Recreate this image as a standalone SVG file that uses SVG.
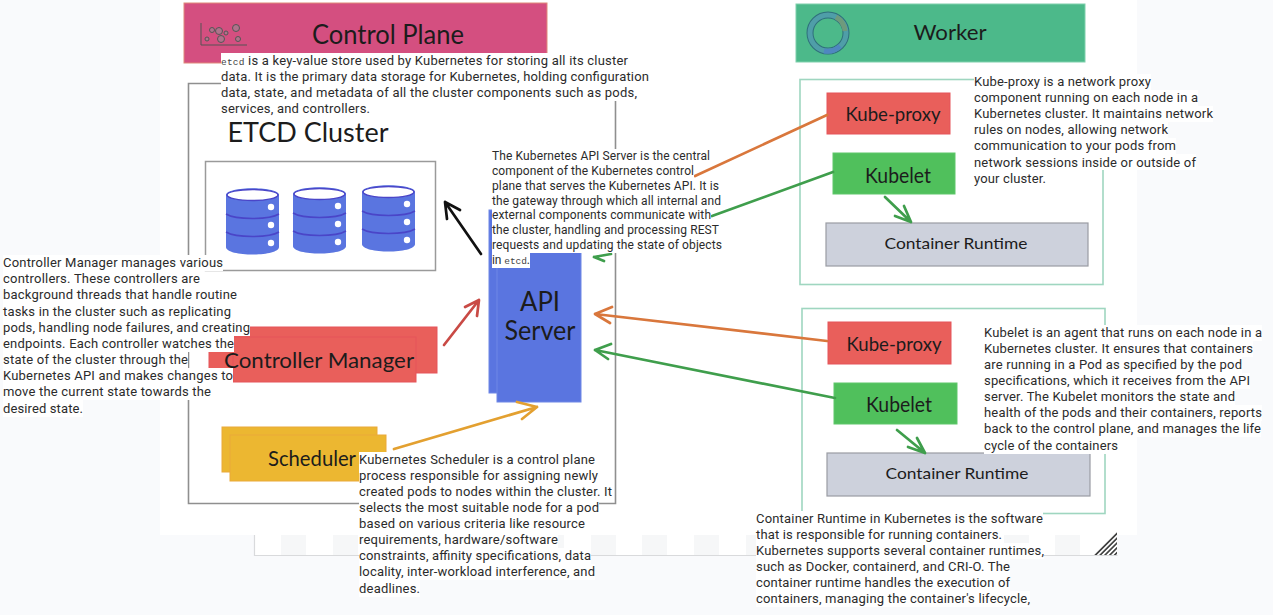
<svg xmlns="http://www.w3.org/2000/svg" width="1273" height="615" viewBox="0 0 1273 615">
<style>
.t{font-family:Roboto,"Liberation Sans",sans-serif;font-size:13px;fill:#2b2b2b}
.a{font-size:12px}
.m{font-family:"Liberation Mono",monospace;font-size:9.5px;fill:#444}
.h{font-family:Lato,"Liberation Sans",sans-serif;fill:#1c1c1c;text-anchor:middle}
.f{fill:none;stroke:#8f8f8f;stroke-width:1.6}
.g{fill:none;stroke:#9fd6c0;stroke-width:1.6}
.r{fill:#e95f5b;stroke:#e5545a;stroke-width:1}
.y{fill:#ecb731;stroke:#eaa93a;stroke-width:1}
.b{fill:#5a75e0;stroke:#6f88e6;stroke-width:1}
.k{fill:#50c05c;stroke:#5fc76a;stroke-width:1}
.c{fill:#cdd1dc;stroke:#9a9ca3;stroke-width:1.2}
.w{fill:#fff}
.l{fill:none;stroke-width:2.7;stroke-linecap:round;stroke-linejoin:round}
.hp{fill:#f6f7f8}
</style>
<defs>
<g id="cyl">
<path d="M0 7C0 -2 53 -2 53 7V59C53 69 0 69 0 59Z" fill="#5a75e0"/>
<ellipse cx="26.5" cy="7" rx="25.5" ry="5.5" fill="#fff" stroke="#4a45c8" stroke-width="1.5"/>
<path d="M0 26C10 32 43 32 53 26M0 44C10 50 43 50 53 44" fill="none" stroke="#4a45c8" stroke-width="1.5"/>
<circle cx="45" cy="19" r="3.2" fill="#fff"/><circle cx="45" cy="37" r="3.2" fill="#fff"/><circle cx="45" cy="55" r="3.2" fill="#fff"/>
</g>
<pattern id="hatch" width="3.4" height="3.4" patternUnits="userSpaceOnUse" patternTransform="rotate(-45)">
<rect width="3.4" height="1.7" fill="#444"/>
</pattern>
</defs>
<rect width="1273" height="615" fill="#f9fafc"/>
<rect x="160" width="977" height="535" fill="#fff"/>
<g id="canvas-edge">
<rect x="254" y="535" width="863" height="20" fill="#fff"/>
<path class="hp" d="M281 535h25v20h-25zM333 535h25v20h-25zM384 535h25v20h-25zM436 535h25v20h-25zM487 535h25v20h-25zM539 535h25v20h-25zM591 535h25v20h-25zM642 535h25v20h-25zM694 535h25v20h-25zM746 535h25v20h-25zM797 535h25v20h-25zM849 535h25v20h-25zM900 535h25v20h-25zM952 535h25v20h-25zM1004 535h25v20h-25zM1055 535h25v20h-25z"/>
<path d="M254.500 535V555.500H1117.500" fill="none" stroke="#d9dadc" stroke-width="1.200"/>
<path d="M1093 555L1117 531V555Z" fill="url(#hatch)"/>
</g>
<g id="control-plane-banner">
<rect x="184" y="3" width="363" height="60" fill="#d44f80" stroke="#e08a7a" stroke-width="1"/>
<path d="M201 23V45H247" fill="none" stroke="#555" stroke-width="1"/>
<g fill="#b0728c" stroke="#555" stroke-width="1"><circle cx="207" cy="39" r="2"/><circle cx="212" cy="30" r="2.500"/><circle cx="219" cy="31" r="3.500"/><circle cx="221" cy="39" r="3.500"/><circle cx="226" cy="33" r="2"/><circle cx="236" cy="28" r="3.500"/><circle cx="238" cy="39" r="2.500"/></g>
<text class="h" x="388" y="44" font-size="27" textLength="152" lengthAdjust="spacingAndGlyphs">Control Plane</text>
</g>
<g id="control-plane-frame"><path class="f" d="M221 83.500H188.500V503.500H615.500V100"/></g>
<g id="etcd-cluster">
<text class="h" x="308" y="142" font-size="26" textLength="161" lengthAdjust="spacingAndGlyphs">ETCD Cluster</text>
<rect x="205.500" y="161.500" width="230" height="109" fill="#fff" stroke="#9a9a9a" stroke-width="1.500"/>
<use href="#cyl" x="226" y="188"/><use href="#cyl" x="293" y="187"/><use href="#cyl" x="362" y="185"/>
</g>
<g id="api-server">
<rect class="b" x="489" y="210" width="70" height="183"/>
<rect class="b" x="497" y="252" width="84" height="150"/>
<text class="h" x="540" y="311" font-size="26" textLength="40" lengthAdjust="spacingAndGlyphs">API</text>
<text class="h" x="540" y="340" font-size="26" textLength="71" lengthAdjust="spacingAndGlyphs">Server</text>
</g>
<g id="controller-manager">
<rect class="r" x="209" y="327" width="228" height="46"/>
<rect class="r" x="233" y="337" width="183" height="45"/>
<text class="h" x="319" y="368" font-size="22" textLength="190" lengthAdjust="spacingAndGlyphs">Controller Manager</text>
</g>
<g id="scheduler">
<rect class="y" x="222" y="427" width="155" height="45"/>
<rect class="y" x="230" y="435" width="156" height="46"/>
<text class="h" x="312" y="466" font-size="21" textLength="88" lengthAdjust="spacingAndGlyphs">Scheduler</text>
</g>
<g id="worker-banner">
<rect x="796" y="4" width="289" height="58" fill="#4cb98a" stroke="#7fd0ac" stroke-width="1"/>
<circle cx="828" cy="33" r="18" fill="none" stroke="#2f6f7c" stroke-width="7"/>
<circle cx="828" cy="33" r="18" fill="none" stroke="#4f9ea8" stroke-width="5"/>
<path d="M836 17A18 18 0 0 1 845 31" fill="none" stroke="#6f9a7c" stroke-width="5"/>
<path d="M840 46A18 18 0 0 1 824 51" fill="none" stroke="#4f87c0" stroke-width="5"/>
<text class="h" x="950" y="40" font-size="22" textLength="73" lengthAdjust="spacingAndGlyphs">Worker</text>
</g>
<g id="worker-1">
<rect class="g" x="800" y="79.500" width="303" height="205"/>
<g id="kube-proxy-1"><rect class="r" x="827" y="93" width="123" height="41"/><text class="h" x="893" y="121" font-size="20" textLength="95" lengthAdjust="spacingAndGlyphs">Kube-proxy</text></g>
<g id="kubelet-1"><rect class="k" x="833" y="153" width="122" height="41"/><text class="h" x="898" y="183" font-size="21" textLength="66" lengthAdjust="spacingAndGlyphs">Kubelet</text></g>
<g id="runtime-1"><rect class="c" x="826" y="223" width="262" height="43"/><text class="h" x="956" y="249" font-size="16" fill="#333" textLength="143" lengthAdjust="spacingAndGlyphs">Container Runtime</text></g>
</g>
<g id="worker-2">
<rect class="g" x="802" y="308.500" width="303" height="205"/>
<g id="kube-proxy-2"><rect class="r" x="828" y="322" width="123" height="42"/><text class="h" x="894" y="351" font-size="20" textLength="95" lengthAdjust="spacingAndGlyphs">Kube-proxy</text></g>
<g id="kubelet-2"><rect class="k" x="834" y="383" width="123" height="41"/><text class="h" x="899" y="412" font-size="21" textLength="66" lengthAdjust="spacingAndGlyphs">Kubelet</text></g>
<g id="runtime-2"><rect class="c" x="827" y="453" width="263" height="43"/><text class="h" x="957" y="479" font-size="16" fill="#333" textLength="143" lengthAdjust="spacingAndGlyphs">Container Runtime</text></g>
</g>
<g id="connectors">
<path class="l" stroke="#111" d="M481 254L445 202M445 202L447 219M445 202L460 210"/>
<path class="l" stroke="#c94a45" d="M444 345L479 300M479 300L465 307M479 300L477 316"/>
<path class="l" stroke="#e3a030" d="M394 449L537 407M537 407L517 402M537 407L522 419"/>
<path class="l" stroke="#d9773c" d="M695 176L827 115"/>
<path class="l" stroke="#3f9e4c" d="M712 216L833 172"/>
<path class="l" stroke="#3f9e4c" d="M594 257L611 254M594 257L604 261"/>
<path class="l" stroke="#d9773c" d="M827 341L595 314M595 314L612 307M595 314L610 323"/>
<path class="l" stroke="#3f9e4c" d="M835 398L595 350M595 350L611 344M595 350L608 359"/>
<path class="l" stroke="#3f9e4c" d="M885 197L911 222M911 222L895 216M911 222L904 206"/>
<path class="l" stroke="#3f9e4c" d="M897 430L925 453M925 453L908 447M925 453L917 438"/>
</g>
<g id="etcd-text">
<path class="w" d="M221 53h407v16H221zM221 69h428v16H221zM221 85h416v16H221zM221 101h149v16H221z"/>
<text class="t" x="221" y="65" textLength="407"><tspan class="m">etcd</tspan> is a key-value store used by Kubernetes for storing all its cluster</text>
<text class="t" x="221" y="81" textLength="428">data. It is the primary data storage for Kubernetes, holding configuration</text>
<text class="t" x="221" y="97" textLength="416">data, state, and metadata of all the cluster components such as pods,</text>
<text class="t" x="221" y="113" textLength="149">services, and controllers.</text>
</g>
<g id="api-text">
<path class="w" d="M492 149h218v15H492zM492 164h202v15H492zM492 179h227v15H492zM492 194h229v15H492zM492 209h219v14H492zM492 223h227v15H492zM492 238h230v15H492zM492 253h38v15H492z"/>
<text class="t a" x="492" y="160" textLength="218">The Kubernetes API Server is the central</text>
<text class="t a" x="492" y="175" textLength="202">component of the Kubernetes control</text>
<text class="t a" x="492" y="190" textLength="227">plane that serves the Kubernetes API. It is</text>
<text class="t a" x="492" y="205" textLength="229">the gateway through which all internal and</text>
<text class="t a" x="492" y="219" textLength="219">external components communicate with</text>
<text class="t a" x="492" y="234" textLength="227">the cluster, handling and processing REST</text>
<text class="t a" x="492" y="249" textLength="230">requests and updating the state of objects</text>
<text class="t a" x="492" y="264" textLength="38">in <tspan class="m">etcd</tspan>.</text>
</g>
<g id="controller-text">
<path class="w" d="M3 255h220v16H3zM3 271h197v16H3zM3 287h234v16H3zM3 303h228v17H3zM3 320h247v16H3zM3 336h231v16H3zM3 352h185v16H3zM3 368h230v16H3zM3 384h208v16H3zM3 400h80v17H3z"/>
<text class="t" x="3" y="267" textLength="220">Controller Manager manages various</text>
<text class="t" x="3" y="283" textLength="197">controllers. These controllers are</text>
<text class="t" x="3" y="299" textLength="234">background threads that handle routine</text>
<text class="t" x="3" y="316" textLength="228">tasks in the cluster such as replicating</text>
<text class="t" x="3" y="332" textLength="247">pods, handling node failures, and creating</text>
<text class="t" x="3" y="348" textLength="231">endpoints. Each controller watches the</text>
<text class="t" x="3" y="364" textLength="185">state of the cluster through the</text>
<text class="t" x="3" y="380" textLength="230">Kubernetes API and makes changes to</text>
<text class="t" x="3" y="396" textLength="208">move the current state towards the</text>
<text class="t" x="3" y="413" textLength="80">desired state.</text>
</g>
<g id="scheduler-text">
<path class="w" d="M359 452h236v16H359zM359 468h239v16H359zM359 484h253v16H359zM359 500h240v16H359zM359 516h226v16H359zM359 532h199v16H359zM359 548h232v16H359zM359 564h236v16H359zM359 580h61v17H359z"/>
<text class="t" x="359" y="464" textLength="236">Kubernetes Scheduler is a control plane</text>
<text class="t" x="359" y="480" textLength="239">process responsible for assigning newly</text>
<text class="t" x="359" y="496" textLength="253">created pods to nodes within the cluster. It</text>
<text class="t" x="359" y="512" textLength="240">selects the most suitable node for a pod</text>
<text class="t" x="359" y="528" textLength="226">based on various criteria like resource</text>
<text class="t" x="359" y="544" textLength="199">requirements, hardware/software</text>
<text class="t" x="359" y="560" textLength="232">constraints, affinity specifications, data</text>
<text class="t" x="359" y="576" textLength="236">locality, inter-workload interference, and</text>
<text class="t" x="359" y="593" textLength="61">deadlines.</text>
</g>
<g id="kube-proxy-text">
<path class="w" d="M974 74h177v16H974zM974 90h224v16H974zM974 106h239v16H974zM974 122h194v16H974zM974 138h202v16H974zM974 154h222v16H974zM974 170h72v17H974z"/>
<text class="t" x="974" y="86" textLength="177">Kube-proxy is a network proxy</text>
<text class="t" x="974" y="102" textLength="224">component running on each node in a</text>
<text class="t" x="974" y="118" textLength="239">Kubernetes cluster. It maintains network</text>
<text class="t" x="974" y="134" textLength="194">rules on nodes, allowing network</text>
<text class="t" x="974" y="150" textLength="202">communication to your pods from</text>
<text class="t" x="974" y="167" textLength="222">network sessions inside or outside of</text>
<text class="t" x="974" y="183" textLength="72">your cluster.</text>
</g>
<g id="kubelet-text">
<path class="w" d="M984 325h278v16H984zM984 341h269v16H984zM984 357h258v16H984zM984 373h266v16H984zM984 389h251v16H984zM984 405h278v16H984zM984 421h277v16H984zM984 437h134v17H984z"/>
<text class="t" x="984" y="337" textLength="278">Kubelet is an agent that runs on each node in a</text>
<text class="t" x="984" y="353" textLength="269">Kubernetes cluster. It ensures that containers</text>
<text class="t" x="984" y="369" textLength="258">are running in a Pod as specified by the pod</text>
<text class="t" x="984" y="385" textLength="266">specifications, which it receives from the API</text>
<text class="t" x="984" y="401" textLength="251">server. The Kubelet monitors the state and</text>
<text class="t" x="984" y="417" textLength="278">health of the pods and their containers, reports</text>
<text class="t" x="984" y="433" textLength="277">back to the control plane, and manages the life</text>
<text class="t" x="984" y="450" textLength="134">cycle of the containers</text>
</g>
<g id="container-text">
<path class="w" d="M756 511h287v16H756zM756 527h246v16H756zM756 543h288v16H756zM756 559h254v16H756zM756 575h254v16H756zM756 591h274v16H756z"/>
<text class="t" x="756" y="523" textLength="287">Container Runtime in Kubernetes is the software</text>
<text class="t" x="756" y="539" textLength="246">that is responsible for running containers.</text>
<text class="t" x="756" y="555" textLength="288">Kubernetes supports several container runtimes,</text>
<text class="t" x="756" y="571" textLength="254">such as Docker, containerd, and CRI-O. The</text>
<text class="t" x="756" y="587" textLength="254">container runtime handles the execution of</text>
<text class="t" x="756" y="603" textLength="274">containers, managing the container's lifecycle,</text>
</g>
</svg>
